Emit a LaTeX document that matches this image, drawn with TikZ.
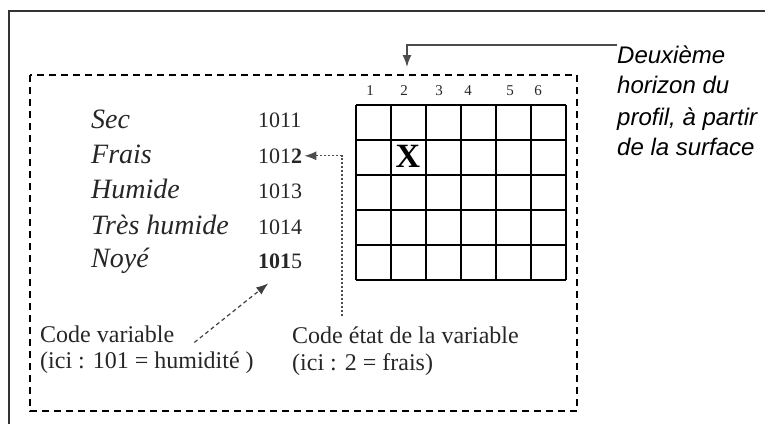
\documentclass[tikz,border=0pt]{standalone}
\usepackage{fontspec}
\setmainfont{Liberation Serif}
\newfontfamily\helvfont{Liberation Sans}
\usetikzlibrary{arrows.meta}

\tikzset{
    word/.style={anchor=base west,inner sep=0pt,text=black!85,font=\fontsize{28}{30}\selectfont\itshape},
    code/.style={anchor=base west,inner sep=0pt,text=black!85,font=\fontsize{22}{24}\selectfont},
    colnum/.style={anchor=base,inner sep=0pt,text=black!85,font=\fontsize{15}{16}\selectfont},
    note/.style={anchor=base west,inner sep=0pt,text=black!85,font=\fontsize{24}{26}\selectfont},
    side/.style={anchor=base west,inner sep=0pt,font=\helvfont\itshape\fontsize{24}{26}\selectfont},
    dotline/.style={black!70,line width=1.2pt,dash pattern=on 2pt off 2pt},
}

\begin{document}
\begin{tikzpicture}[x=1pt,y=-1pt,>={Latex[length=12pt,width=9pt]}]
    \useasboundingbox (0,0) rectangle (765,424);
    \draw[line width=1.5pt,black!80] (9,424)--(9,11)--(765,11);
    \draw[line width=1.3pt,dash pattern=on 7pt off 5pt] (30,75) rectangle (577,411);
    % grille des horizons
    \begin{scope}[shift={(356,105)}]
        \draw[line width=1.1pt] (0,0) grid[step=35pt] (210,175);
    \end{scope}
    \foreach \n/\x in {1/370,2/404,3/439,4/468,5/510,6/538}
        \node[colnum] (col\n) at (\x,95) {\n};
    \node[anchor=base,inner sep=0pt,font=\bfseries\fontsize{34}{34}\selectfont] (mark) at (408,167) {X};
    % etats et codes
    \node[word] (sec) at (91,128) {Sec};
    \node[word] (frais) at (91,163) {Frais};
    \node[word] (hum) at (91,198) {Humide};
    \node[word] (thum) at (91,234) {Très humide};
    \node[word] (noye) at (91,267) {Noyé};
    \node[code] (n1) at (258,127) {1011};
    \node[code] (n2) at (258,163) {101\textbf{2}};
    \node[code] (n3) at (258,198) {1013};
    \node[code] (n4) at (258,234) {1014};
    \node[code] (n5) at (258,268) {\textbf{101}5};
    % legendes
    \node[note] (cvar1) at (40,342) {Code variable};
    \node[note] (cvar2) at (40,368) {(ici : 101 = humidité )};
    \node[note] (etat1) at (292,343) {Code état de la variable};
    \node[note] (etat2) at (292,370) {(ici : 2 = frais)};
    \node[side] (deux1) at (617,63) {Deuxième};
    \node[side] (deux2) at (617,93) {horizon du};
    \node[side] (deux3) at (617,125) {profil, à partir};
    \node[side] (deux4) at (617,155) {de la surface};
    % fleches
    \coordinate (bend) at (342,160);
    \coordinate (tip) at (407,67);
    \draw[dotline,->] (etat1.north -| bend) ++(0,-10) -- (bend |- n2.east) -- ([xshift=2pt]n2.east);
    \draw[black!75,line width=1.2pt,dash pattern=on 4pt off 3pt,->] ([xshift=20pt]cvar1.south east) -- ([xshift=-12pt,yshift=-15pt]n5.south);
    \draw[black!70,line width=1.5pt,->] (deux1.north west) -| (tip);
\end{tikzpicture}
\end{document}
